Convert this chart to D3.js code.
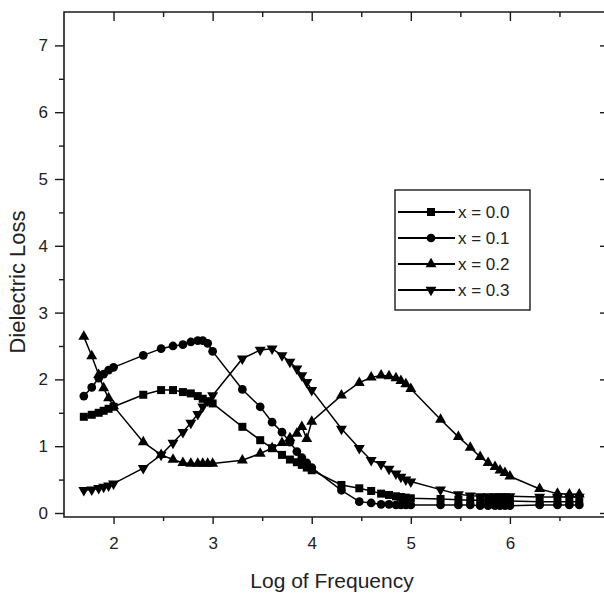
<!DOCTYPE html>
<html>
<head>
<meta charset="utf-8">
<script src="https://cdn.jsdelivr.net/npm/d3@7"></script>
<style>
  body { margin: 0; background: #fff; overflow: hidden; }
  svg { display: block; overflow: hidden; font-family: "Liberation Sans", Arial, sans-serif; }
</style>
</head>
<body>
<div id="chart"></div>
<script>
// log10 of the measuring frequency (50 Hz ... 5 MHz)
const logFreq = [1.70, 1.78, 1.85, 1.90, 1.95, 2.00,
  2.30, 2.48, 2.60, 2.70, 2.78, 2.85, 2.90, 2.95, 3.00,
  3.30, 3.48, 3.60, 3.70, 3.78, 3.85, 3.90, 3.95, 4.00,
  4.30, 4.48, 4.60, 4.70, 4.78, 4.85, 4.90, 4.95, 5.00,
  5.30, 5.48, 5.60, 5.70, 5.78, 5.85, 5.90, 5.95, 6.00,
  6.30, 6.48, 6.60, 6.70];

const lossX00 = [1.44, 1.47, 1.50, 1.53, 1.56, 1.59,
  1.77, 1.84, 1.84, 1.81, 1.79, 1.75, 1.71, 1.67, 1.64,
  1.29, 1.09, 0.97, 0.87, 0.80, 0.76, 0.72, 0.68, 0.64,
  0.42, 0.37, 0.33, 0.29, 0.27, 0.25, 0.24, 0.23, 0.22,
  0.21, 0.20, 0.19, 0.19, 0.18, 0.18, 0.18, 0.18, 0.18,
  0.17, 0.17, 0.17, 0.17];

const lossX01 = [1.75, 1.88, 2.02, 2.08, 2.14, 2.18,
  2.36, 2.46, 2.50, 2.52, 2.56, 2.58, 2.58, 2.54, 2.42,
  1.85, 1.59, 1.36, 1.21, 1.06, 0.92, 0.83, 0.75, 0.68,
  0.34, 0.17, 0.15, 0.13, 0.13, 0.12, 0.12, 0.12, 0.12,
  0.12, 0.12, 0.12, 0.11, 0.11, 0.11, 0.11, 0.11, 0.11,
  0.12, 0.12, 0.12, 0.12];

const lossX02 = [2.64, 2.35, 2.07, 1.87, 1.72, 1.60,
  1.06, 0.87, 0.80, 0.75, 0.74, 0.74, 0.74, 0.74, 0.74,
  0.79, 0.89, 0.97, 1.05, 1.12, 1.19, 1.29, 1.11, 1.37,
  1.76, 1.95, 2.03, 2.06, 2.05, 2.02, 1.98, 1.93, 1.86,
  1.40, 1.14, 0.98, 0.84, 0.75, 0.69, 0.64, 0.60, 0.55,
  0.36, 0.29, 0.28, 0.28];

const lossX03 = [0.34, 0.35, 0.37, 0.39, 0.41, 0.44,
  0.67, 0.87, 1.05, 1.21, 1.35, 1.48, 1.59, 1.68, 1.76,
  2.31, 2.44, 2.46, 2.36, 2.26, 2.16, 2.06, 1.96, 1.84,
  1.26, 0.97, 0.79, 0.73, 0.66, 0.59, 0.54, 0.50, 0.47,
  0.35, 0.28, 0.26, 0.25, 0.25, 0.25, 0.25, 0.25, 0.25,
  0.24, 0.24, 0.24, 0.24];

const seriesNames = ["x = 0.0", "x = 0.1", "x = 0.2", "x = 0.3"];
const xTicks = [2, 3, 4, 5, 6];
const xMinorTicks = [2.5, 3.5, 4.5, 5.5, 6.5];
const yTicks = [0, 1, 2, 3, 4, 5, 6, 7];
const yMinorTicks = [0.5, 1.5, 2.5, 3.5, 4.5, 5.5, 6.5];

// the plot frame runs a few pixels past the right edge of the picture
const margin = {top: 12, right: -5, bottom: 76, left: 64},
    width = 604 - margin.left - margin.right,
    height = 593 - margin.top - margin.bottom;

const svg = d3.select("#chart")
    .append("svg")
    .attr("width", width + margin.left + margin.right)
    .attr("height", height + margin.top + margin.bottom)
    .append("g")
    .attr("transform", `translate(${margin.left}, ${margin.top})`);

const x = d3.scaleLinear().domain([1.5, 7]).range([0, width]);
const y = d3.scaleLinear().domain([-0.06, 7.5]).range([height, 0]);

const ink = "#1a1a1a";

function styleAxis(g) {
    g.select(".domain").remove();
    g.selectAll("line").attr("stroke", ink).attr("stroke-width", 1.4);
    g.selectAll("text").attr("fill", "#222").style("font-size", "17px");
}

// bottom axis (ticks outward)
svg.append("g")
    .attr("transform", `translate(0, ${height})`)
    .call(d3.axisBottom(x).tickValues(xTicks).tickSize(7).tickPadding(13)
        .tickFormat(d3.format("d")).tickSizeOuter(0))
    .call(styleAxis);
svg.append("g")
    .attr("transform", `translate(0, ${height})`)
    .call(d3.axisBottom(x).tickValues(xMinorTicks).tickSize(4).tickFormat("").tickSizeOuter(0))
    .call(styleAxis);

// top axis (ticks inward)
svg.append("g")
    .call(d3.axisBottom(x).tickValues(xTicks).tickSize(9).tickFormat("").tickSizeOuter(0))
    .call(styleAxis);
svg.append("g")
    .call(d3.axisBottom(x).tickValues(xMinorTicks).tickSize(5).tickFormat("").tickSizeOuter(0))
    .call(styleAxis);

// left axis (ticks outward)
svg.append("g")
    .call(d3.axisLeft(y).tickValues(yTicks).tickSize(9).tickPadding(7)
        .tickFormat(d3.format("d")).tickSizeOuter(0))
    .call(styleAxis);
svg.append("g")
    .call(d3.axisLeft(y).tickValues(yMinorTicks).tickSize(5).tickFormat("").tickSizeOuter(0))
    .call(styleAxis);

// right axis (ticks inward)
svg.append("g")
    .attr("transform", `translate(${width}, 0)`)
    .call(d3.axisLeft(y).tickValues(yTicks).tickSize(9).tickFormat("").tickSizeOuter(0))
    .call(styleAxis);
svg.append("g")
    .attr("transform", `translate(${width}, 0)`)
    .call(d3.axisLeft(y).tickValues(yMinorTicks).tickSize(5).tickFormat("").tickSizeOuter(0))
    .call(styleAxis);

// frame: left, top and bottom sides (right side is off the picture)
svg.append("path")
    .attr("d", `M${width},0H0V${height}H${width}`)
    .attr("fill", "none")
    .attr("stroke", ink)
    .attr("stroke-width", 1.6);

// axis titles
svg.append("text")
    .attr("text-anchor", "middle")
    .attr("x", 268)
    .attr("y", height + 71)
    .attr("fill", "#222")
    .style("font-size", "21px")
    .text("Log of Frequency");

svg.append("text")
    .attr("text-anchor", "middle")
    .attr("transform", `translate(-39, 270) rotate(-90)`)
    .attr("fill", "#222")
    .style("font-size", "22px")
    .text("Dielectric Loss");

// series
const allSeries = [lossX00, lossX01, lossX02, lossX03];
const symbols = [
    {type: d3.symbolSquare, size: 64, rotate: 0},
    {type: d3.symbolCircle, size: 60, rotate: 0},
    {type: d3.symbolTriangle, size: 52, rotate: 0},
    {type: d3.symbolTriangle, size: 52, rotate: 180}
];

const line = d3.line()
    .x(d => x(d[0]))
    .y(d => y(d[1]));

allSeries.forEach(function (values, i) {
    const pts = logFreq.map((f, j) => [f, values[j]]);
    const g = svg.append("g");
    g.append("path")
        .datum(pts)
        .attr("fill", "none")
        .attr("stroke", "#000")
        .attr("stroke-width", 1.5)
        .attr("d", line);
    const sym = d3.symbol().type(symbols[i].type).size(symbols[i].size);
    g.selectAll("path.mark")
        .data(pts)
        .join("path")
        .attr("class", "mark")
        .attr("transform", d => `translate(${x(d[0])}, ${y(d[1])}) rotate(${symbols[i].rotate})`)
        .attr("d", sym)
        .attr("fill", "#000");
});

// legend
const legend = svg.append("g").attr("transform", "translate(331, 178)");
legend.append("rect")
    .attr("x", 0).attr("y", 0)
    .attr("width", 135).attr("height", 120)
    .attr("fill", "#fff")
    .attr("stroke", ink)
    .attr("stroke-width", 1.4);

seriesNames.forEach(function (name, i) {
    const rowY = 22 + i * 26;
    legend.append("line")
        .attr("x1", 3).attr("x2", 60)
        .attr("y1", rowY).attr("y2", rowY)
        .attr("stroke", "#000")
        .attr("stroke-width", 2);
    legend.append("path")
        .attr("transform", `translate(36, ${rowY}) rotate(${symbols[i].rotate})`)
        .attr("d", d3.symbol().type(symbols[i].type).size(symbols[i].size))
        .attr("fill", "#000");
    legend.append("text")
        .attr("x", 63)
        .attr("y", rowY)
        .attr("dy", "0.36em")
        .attr("fill", "#222")
        .style("font-size", "17px")
        .text(name);
});
</script>
</body>
</html>
